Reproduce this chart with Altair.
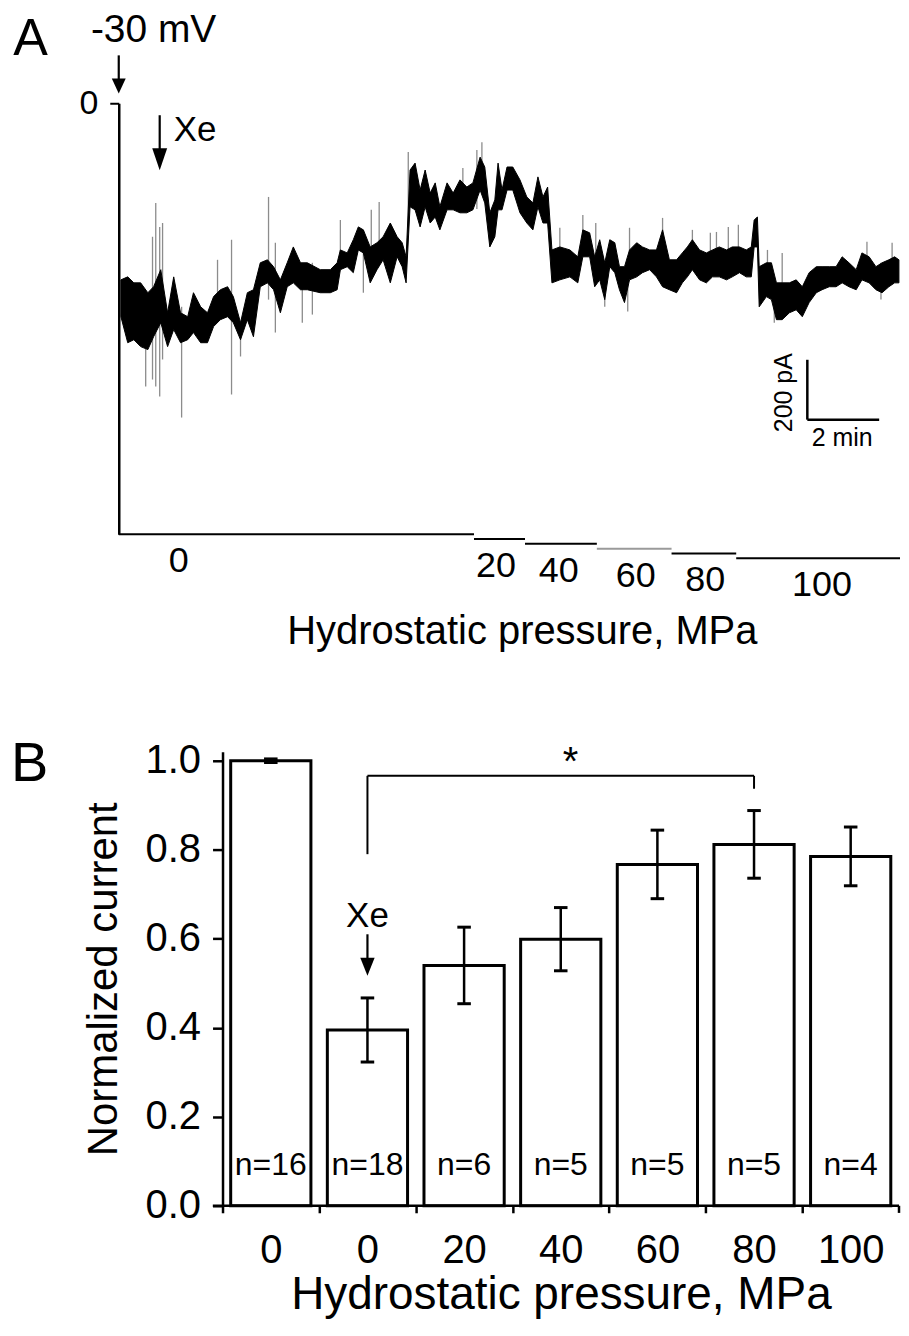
import altair as alt
import pandas as pd

FONT = "Liberation Sans"

# ---------------- Panel A data ----------------
# trace envelope: (time min, lower edge pA, upper edge pA)
trace = [
    (0.06, -713, -590), (0.25, -800, -580), (0.42, -790, -600), (0.61, -813, -600), (0.81, -823, -633), (0.97, -780, -613),
    (1.17, -733, -556), (1.36, -813, -700), (1.53, -756, -580), (1.72, -800, -700), (1.92, -790, -713), (2.08, -766, -633),
    (2.28, -800, -680), (2.47, -800, -700), (2.64, -746, -646), (2.83, -723, -623), (3.03, -713, -613), (3.19, -733, -646),
    (3.39, -790, -733), (3.58, -723, -633), (3.75, -780, -623), (3.94, -613, -533), (4.14, -600, -523), (4.31, -623, -546),
    (4.50, -700, -590), (4.69, -613, -533), (4.86, -600, -480), (5.06, -623, -533), (5.25, -623, -533), (5.61, -633, -556),
    (5.89, -633, -556), (6.08, -623, -533), (6.17, -556, -490), (6.36, -546, -500), (6.53, -566, -456), (6.67, -490, -413),
    (6.81, -500, -423), (7.00, -600, -480), (7.19, -556, -466), (7.36, -523, -446), (7.56, -600, -400), (7.75, -513, -446),
    (7.89, -546, -466), (8.00, -600, -513), (8.11, -346, -223), (8.25, -356, -200), (8.39, -413, -290), (8.53, -346, -223),
    (8.67, -400, -300), (8.81, -380, -266), (8.94, -423, -346), (9.14, -356, -266), (9.31, -356, -300), (9.50, -366, -256),
    (9.69, -366, -280), (9.86, -356, -266), (10.06, -290, -180), (10.19, -333, -213), (10.33, -480, -366), (10.47, -446, -323),
    (10.56, -356, -200), (10.67, -356, -290), (10.81, -290, -213), (10.97, -290, -213), (11.17, -366, -256), (11.36, -400, -313),
    (11.53, -423, -333), (11.67, -346, -246), (11.81, -400, -313), (11.94, -400, -280), (12.06, -600, -490), (12.28, -590, -480),
    (12.56, -580, -490), (12.78, -600, -513), (12.92, -513, -423), (13.11, -513, -433), (13.25, -613, -513), (13.39, -590, -456),
    (13.53, -656, -533), (13.67, -546, -456), (13.81, -566, -466), (13.94, -623, -546), (14.08, -666, -546), (14.22, -590, -490),
    (14.42, -580, -466), (14.58, -566, -480), (14.78, -556, -490), (14.97, -580, -490), (15.14, -613, -423), (15.33, -623, -523),
    (15.53, -633, -523), (15.69, -600, -500), (15.83, -580, -480), (15.97, -556, -456), (16.17, -590, -490), (16.36, -600, -500),
    (16.53, -580, -490), (16.72, -580, -480), (16.92, -590, -490), (17.08, -580, -480), (17.28, -566, -480), (17.47, -580, -490),
    (17.61, -580, -480), (17.69, -480, -390), (17.78, -480, -380), (17.83, -680, -546), (18.03, -646, -533), (18.17, -656, -533),
    (18.31, -723, -600), (18.47, -723, -600), (18.67, -700, -600), (18.86, -690, -590), (19.03, -713, -613), (19.22, -666, -566),
    (19.42, -633, -546), (19.58, -623, -546), (19.78, -613, -546), (19.97, -613, -546), (20.14, -600, -513), (20.33, -613, -533),
    (20.53, -623, -556), (20.69, -590, -500), (20.89, -600, -513), (21.08, -623, -546), (21.25, -633, -533), (21.44, -613, -523),
    (21.60, -600, -513), (21.72, -600, -523),
]
# brief transients (time min, low pA, high pA)
spikes = [
    (0.75, -946, -656), (0.94, -923, -446), (1.03, -946, -333), (1.14, -980, -413), (1.22, -856, -400),
    (1.75, -1050, -680), (2.75, -656, -523), (3.14, -973, -456), (3.39, -846, -733), (4.17, -656, -313),
    (4.36, -766, -466), (5.11, -733, -546), (5.39, -706, -533), (6.17, -533, -390), (6.81, -633, -423),
    (7.03, -573, -356), (7.25, -533, -330), (8.06, -433, -163), (9.58, -353, -216), (9.97, -353, -156),
    (10.11, -293, -130), (12.28, -573, -416), (12.92, -513, -373), (13.28, -593, -400), (13.53, -680, -533),
    (14.17, -696, -573), (14.22, -573, -416), (15.14, -593, -383), (15.97, -553, -423), (16.47, -573, -433),
    (16.64, -573, -430), (16.97, -573, -413), (17.25, -563, -406), (18.06, -633, -490), (18.25, -733, -603),
    (18.47, -713, -500), (20.83, -593, -463), (21.22, -656, -533), (21.53, -603, -466),
]

press_levels = [0, 20, 40, 60, 80, 100]
press_start = [0.0, 9.89, 11.31, 13.31, 15.39, 17.19]
press_end = [9.89, 11.31, 13.31, 15.39, 17.19, 21.75]
press_label_t = [1.67, 10.5, 12.25, 14.39, 16.33, 19.58]

scalebar_t, scalebar_I = 19.17, -1057
scalebar_dt, scalebar_dI = 2, 200

# ---------------- Panel B data ----------------
groups = ["0", "0", "20", "40", "60", "80", "100"]
means = [1.0, 0.395, 0.540, 0.599, 0.767, 0.812, 0.785]
sems = [0.004, 0.072, 0.086, 0.071, 0.077, 0.076, 0.066]
n_labels = ["n=16", "n=18", "n=6", "n=5", "n=5", "n=5", "n=4"]

WA, HA = 783, 432
HB = 455
STEP_B = 96.9           # px per group in panel B
INSET_B = 104           # panel B axis sits this far right of panel A's axis
WB = round(STEP_B * len(groups) + INSET_B)

# ================= Panel A =================
xA_scale = alt.Scale(domain=[0, 21.75], nice=False, zero=False)
yA_scale = alt.Scale(domain=[-1440, 0], nice=False, zero=False)
xA_axis = alt.Axis(labels=False, ticks=False, domain=False, grid=False,
                   title="Hydrostatic pressure, MPa", titleFontSize=40,
                   titlePadding=77, titleX=404)
yA_axis = alt.Axis(values=[0], tickSize=9, tickWidth=2, domainWidth=2.5,
                   labelFontSize=34, labelPadding=12, title=None, grid=False)


def XA(f):
    return alt.X(f, type="quantitative", scale=xA_scale, axis=xA_axis)


def YA(f):
    return alt.Y(f, type="quantitative", scale=yA_scale, axis=yA_axis)


df_trace = pd.DataFrame(trace, columns=["t", "lo", "hi"])
df_spk = pd.DataFrame(spikes, columns=["t", "lo", "hi"])

spk_layer = alt.Chart(df_spk).mark_rule(color="#8c8c8c", strokeWidth=1.3).encode(
    x=XA("t"), y=YA("lo"), y2=alt.Y2("hi"))
trace_layer = alt.Chart(df_trace).mark_area(color="black", stroke="black", strokeWidth=1,
                                            opacity=1).encode(
    x=XA("t"), y=YA("lo"), y2=alt.Y2("hi"))

# arrows (vertical): time, start pA, head pA
df_arr1 = pd.DataFrame({"t": [0.0], "s": [160], "h": [58]})
df_arr2 = pd.DataFrame({"t": [1.14], "s": [-40], "h": [-187]})
arr1_line = alt.Chart(df_arr1).mark_rule(color="black", strokeWidth=2.2).encode(
    x=XA("t"), y=YA("s"), y2=alt.Y2("h"))
arr1_head = alt.Chart(df_arr1).mark_point(shape="M-0.93,-1L0.93,-1L0,1Z", size=225, filled=True,
                                          color="black", opacity=1).encode(x=XA("t"), y=YA("h"))
arr2_line = alt.Chart(df_arr2).mark_rule(color="black", strokeWidth=2.2).encode(
    x=XA("t"), y=YA("s"), y2=alt.Y2("h"))
arr2_head = alt.Chart(df_arr2).mark_point(shape="M-0.68,-1L0.68,-1L0,1Z", size=484, filled=True,
                                          color="black", opacity=1).encode(x=XA("t"), y=YA("h"))

df_mv = pd.DataFrame({"t": [0.97], "I": [245], "label": ["-30 mV"]})
mv_text = alt.Chart(df_mv).mark_text(font=FONT, fontSize=39, color="black", baseline="middle").encode(
    x=XA("t"), y=YA("I"), text="label")
df_xeA = pd.DataFrame({"t": [1.53], "I": [-90], "label": ["Xe"]})
xeA_text = alt.Chart(df_xeA).mark_text(font=FONT, fontSize=35, color="black", align="left",
                                       baseline="middle").encode(x=XA("t"), y=YA("I"), text="label")
df_lettA = pd.DataFrame({"t": [-2.94], "I": [215], "label": ["A"]})
lettA = alt.Chart(df_lettA).mark_text(font=FONT, fontSize=52, color="black", align="left",
                                      baseline="middle").encode(x=XA("t"), y=YA("I"), text="label")

# scale bar
df_sbv = pd.DataFrame({"t": [scalebar_t], "I": [scalebar_I], "I2": [scalebar_I + scalebar_dI]})
df_sbh = pd.DataFrame({"t": [scalebar_t], "t2": [scalebar_t + scalebar_dt], "I": [scalebar_I]})
sb_v = alt.Chart(df_sbv).mark_rule(color="black", strokeWidth=2.5).encode(
    x=XA("t"), y=YA("I"), y2=alt.Y2("I2"))
sb_h = alt.Chart(df_sbh).mark_rule(color="black", strokeWidth=2.5).encode(
    x=XA("t"), x2=alt.X2("t2"), y=YA("I"))
df_sbt1 = pd.DataFrame({"t": [scalebar_t - 0.64], "I": [scalebar_I + scalebar_dI / 2 - 10],
                        "label": [f"{scalebar_dI} pA"]})
df_sbt2 = pd.DataFrame({"t": [scalebar_t + scalebar_dt / 2 - 0.03], "I": [scalebar_I - 60],
                        "label": [f"{scalebar_dt} min"]})
sb_t1 = alt.Chart(df_sbt1).mark_text(font=FONT, fontSize=25, color="black", angle=270,
                                     baseline="middle").encode(x=XA("t"), y=YA("I"), text="label")
sb_t2 = alt.Chart(df_sbt2).mark_text(font=FONT, fontSize=25, color="black",
                                     baseline="middle").encode(x=XA("t"), y=YA("I"), text="label")

inner_A = alt.layer(spk_layer, trace_layer, arr1_line, arr1_head, arr2_line, arr2_head,
                    mv_text, xeA_text, lettA, sb_v, sb_h, sb_t1, sb_t2)

# pressure protocol (own vertical scale, MPa increasing downward)
df_press = pd.DataFrame({"p": press_levels, "t0": press_start, "t1": press_end, "lt": press_label_t})
p_scale = alt.Scale(domain=[0, -1800], nice=False, zero=False)
press_line = alt.Chart(df_press).mark_rule(strokeWidth=2).encode(
    x=XA("t0"), x2=alt.X2("t1"),
    y=alt.Y("p:Q", scale=p_scale, axis=None),
    color=alt.condition(alt.datum.p == 60, alt.value("#9a9a9a"), alt.value("black")))
press_text = alt.Chart(df_press).mark_text(font=FONT, fontSize=36, color="black", baseline="middle",
                                           dy=27).encode(
    x=XA("lt"), y=alt.Y("p:Q", scale=p_scale, axis=None), text=alt.Text("p:Q", format="d"))

panel_A = alt.layer(inner_A, press_line, press_text).resolve_scale(y="independent").properties(
    width=WA, height=HA)

# ================= Panel B =================
df_b = pd.DataFrame({"idx": list(range(len(groups))), "grp": groups, "mean": means,
                     "sem": sems, "n": n_labels})
label_expr = "[" + ",".join(f"'{g}'" for g in groups) + "][datum.value]"
x0_B = -INSET_B / STEP_B
xB_scale = alt.Scale(domain=[x0_B, len(groups)], nice=False, zero=False)
yB_scale = alt.Scale(domain=[0, 1.02], nice=False, zero=False)
xB_axis = alt.Axis(values=list(range(len(groups))), tickSize=7, tickWidth=2.5, domain=False,
                   labelExpr=label_expr, labelOffset=STEP_B / 2, labelFontSize=40, labelPadding=18,
                   labelFlush=False, labelOverlap=False, grid=False,
                   title="Hydrostatic pressure, MPa", titleFontSize=46, titlePadding=2,
                   titleX=INSET_B + STEP_B * len(groups) / 2)
yB_axis = alt.Axis(values=[0, 0.2, 0.4, 0.6, 0.8, 1.0], format=".1f", tickSize=10, tickWidth=2.5,
                   domainWidth=2.5, labelFontSize=40, labelPadding=12, labelFlush=False,
                   labelOverlap=False, grid=False, title="Normalized current", titleFontSize=42,
                   titlePadding=20, offset=-INSET_B)


def XB(f):
    return alt.X(f, type="quantitative", scale=xB_scale, axis=xB_axis)


def YB(f):
    return alt.Y(f, type="quantitative", scale=yB_scale, axis=yB_axis)


baseB = alt.Chart(df_b).transform_calculate(
    xl="datum.idx + 0.085", xr="datum.idx + 0.915", xc="datum.idx + 0.5",
    cl="datum.idx + 0.43", cr="datum.idx + 0.57",
    lo="datum.mean - datum.sem", hi="datum.mean + datum.sem", ny="0.092")

bars = baseB.mark_bar(fill="white", stroke="black", strokeWidth=3).encode(
    x=XB("xl"), x2=alt.X2("xr"), y=YB("mean"), y2=alt.datum(0))
err = baseB.mark_rule(color="black", strokeWidth=2.5).encode(x=XB("xc"), y=YB("lo"), y2=alt.Y2("hi"))
cap_hi = baseB.mark_rule(color="black", strokeWidth=3).encode(x=XB("cl"), x2=alt.X2("cr"), y=YB("hi"))
cap_lo = baseB.mark_rule(color="black", strokeWidth=3).encode(x=XB("cl"), x2=alt.X2("cr"), y=YB("lo"))
ntext = baseB.mark_text(font=FONT, fontSize=32, color="black", baseline="middle").encode(
    x=XB("xc"), y=YB("ny:Q"), text="n")

# x baseline of panel B and its closing tick (plot area starts left of the y axis)
df_base = pd.DataFrame({"x": [-0.1], "x2": [float(len(groups))], "y": [0.0]})
baseline = alt.Chart(df_base).mark_rule(color="black", strokeWidth=2.5).encode(
    x=XB("x"), x2=alt.X2("x2"), y=YB("y"))
df_endtick = pd.DataFrame({"x": [float(len(groups))], "y": [0.0], "y2": [-0.016]})
endtick = alt.Chart(df_endtick).mark_rule(color="black", strokeWidth=2.5).encode(
    x=XB("x"), y=YB("y"), y2=alt.Y2("y2"))

# Xe arrow over the second bar
df_xeB = pd.DataFrame({"x": [1.5], "ty": [0.652], "s": [0.61], "h": [0.537], "label": ["Xe"]})
xeB_text = alt.Chart(df_xeB).mark_text(font=FONT, fontSize=35, color="black", baseline="middle").encode(
    x=XB("x"), y=YB("ty"), text="label")
xeB_line = alt.Chart(df_xeB).mark_rule(color="black", strokeWidth=2.2).encode(
    x=XB("x"), y=YB("s"), y2=alt.Y2("h"))
xeB_head = alt.Chart(df_xeB).mark_point(shape="M-0.8,-1L0.8,-1L0,1Z", size=324, filled=True,
                                        color="black", opacity=1).encode(x=XB("x"), y=YB("h"))

# significance bracket between group index 1 and 5
df_brh = pd.DataFrame({"x": [1.5], "x2": [5.5], "y": [0.966]})
df_brv = pd.DataFrame({"x": [1.5, 5.5], "y": [0.79, 0.937], "y2": [0.966, 0.966]})
br_h = alt.Chart(df_brh).mark_rule(color="black", strokeWidth=2).encode(
    x=XB("x"), x2=alt.X2("x2"), y=YB("y"))
br_v = alt.Chart(df_brv).mark_rule(color="black", strokeWidth=2).encode(
    x=XB("x"), y=YB("y"), y2=alt.Y2("y2"))
df_star = pd.DataFrame({"x": [3.6], "y": [0.995], "label": ["*"]})
star = alt.Chart(df_star).mark_text(font=FONT, fontSize=40, color="black", baseline="middle").encode(
    x=XB("x"), y=YB("y"), text="label")

df_lettB = pd.DataFrame({"x": [-(INSET_B + 108) / STEP_B], "y": [0.993], "label": ["B"]})
lettB = alt.Chart(df_lettB).mark_text(font=FONT, fontSize=56, color="black", align="left",
                                      baseline="middle").encode(x=XB("x"), y=YB("y"), text="label")

panel_B = alt.layer(bars, err, cap_hi, cap_lo, baseline, endtick, ntext, xeB_text, xeB_line, xeB_head,
                    br_h, br_v, star, lettB).properties(width=WB, height=HB)

chart = alt.vconcat(panel_A, panel_B, spacing=85).properties(
    padding={"left": 3, "top": 1, "right": 0, "bottom": 0}
).configure_view(stroke=None).configure_axis(
    grid=False, domainColor="black", tickColor="black", labelColor="black", titleColor="black",
    labelFont=FONT, titleFont=FONT, titleFontWeight="normal"
)

chart.save("out.html", embed_options={"renderer": "svg", "actions": False})
